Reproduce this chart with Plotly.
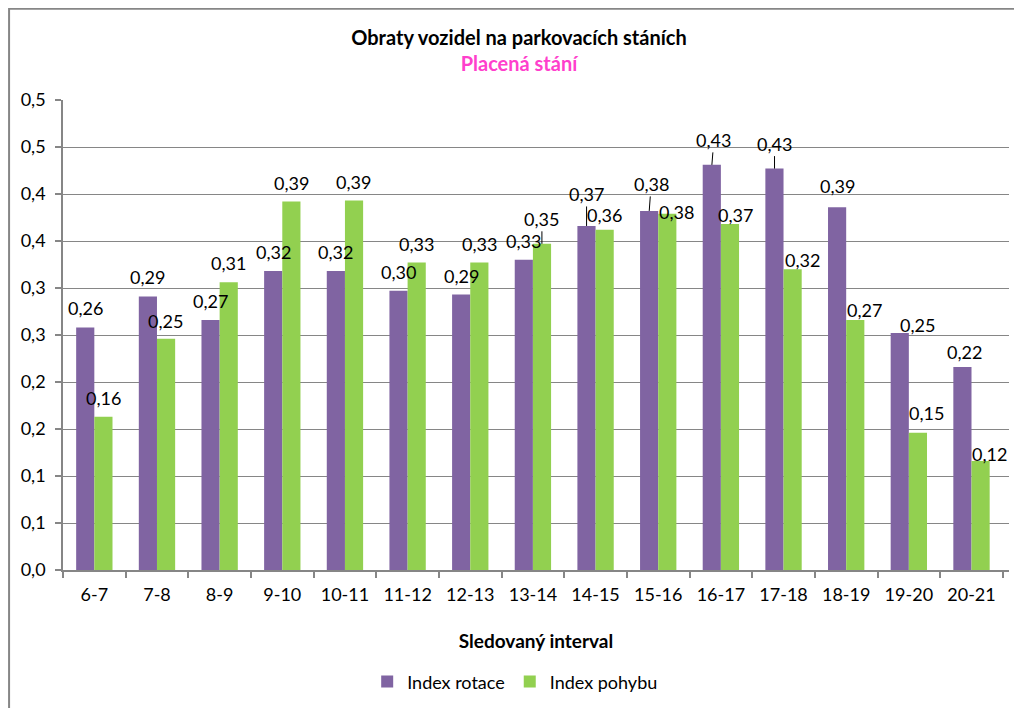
import plotly.graph_objects as go

# Sledované intervaly
intervaly = ['6-7', '7-8', '8-9', '9-10', '10-11', '11-12', '12-13', '13-14',
             '14-15', '15-16', '16-17', '17-18', '18-19', '19-20', '20-21']

# Index rotace (fialová)
index_rotace = [0.258, 0.291, 0.266, 0.318, 0.318, 0.297, 0.293, 0.330,
                0.366, 0.382, 0.431, 0.427, 0.386, 0.252, 0.216]

# Index pohybu (zelená)
index_pohybu = [0.163, 0.246, 0.306, 0.392, 0.393, 0.327, 0.327, 0.347,
                0.362, 0.379, 0.368, 0.320, 0.266, 0.146, 0.116]

# popisky osy y (jako v Excelu: krok 0,05, jedno desetinné místo)
y_hodnoty = [0, 0.05, 0.1, 0.15, 0.2, 0.25, 0.3, 0.35, 0.4, 0.45, 0.5]
y_popisky = ['0,0', '0,1', '0,1', '0,2', '0,2', '0,3', '0,3', '0,4', '0,4', '0,5', '0,5']

FIALOVA = '#8064A2'
ZELENA = '#92D050'
SEDA = '#868686'
FONT = 'Lato'
VEL = 18


def cz(v):
    return f'{v:.2f}'.replace('.', ',')


fig = go.Figure()
fig.add_trace(go.Bar(x=intervaly, y=index_rotace, name='Index rotace',
                     marker=dict(color=FIALOVA, line=dict(width=0))))
fig.add_trace(go.Bar(x=intervaly, y=index_pohybu, name='Index pohybu',
                     marker=dict(color=ZELENA, line=dict(width=0))))

# posuny popisků (ručně přesunuté v Excelu) - (dx, dy) v px, případně s čárou
posun_rotace = {5: (0, 19), 12: (0, 21), 13: (18, 8), 14: (2, 15)}
cary_rotace = {8: (0, -32), 9: (2, -27), 10: (2, -25), 11: (0, -25)}
posun_pohybu = {1: (0, 18), 8: (0, 15), 9: (9, 2), 10: (6, 9), 11: (10, 9),
                12: (9, 10), 13: (9, 20), 14: (9, 7)}
cary_pohybu = {7: (0, -25)}

anot = []
for hodnoty, xs, posun, cary in [
        (index_rotace, -9, posun_rotace, cary_rotace),
        (index_pohybu, 9, posun_pohybu, cary_pohybu)]:
    for i, (kat, v) in enumerate(zip(intervaly, hodnoty)):
        if i in cary:
            ax, ay = cary[i]
            anot.append(dict(x=kat, y=v, xshift=xs, text=cz(v), showarrow=True,
                             arrowhead=0, arrowwidth=1, arrowcolor='black',
                             ax=ax, ay=ay, standoff=0, startstandoff=0,
                             font=dict(size=VEL, color='black', family=FONT)))
        else:
            dx, dy = posun.get(i, (0, 19))
            anot.append(dict(x=kat, y=v, xshift=xs + dx, yshift=dy, text=cz(v),
                             showarrow=False, xanchor='center', yanchor='middle',
                             font=dict(size=VEL, color='black', family=FONT)))

# stránka má okraj 8 px, proto jsou okraje grafu o 8 px menší
fig.update_layout(
    width=1022, height=708,
    margin=dict(l=55, r=21, t=92, b=146),
    paper_bgcolor='white', plot_bgcolor='white',
    font=dict(family=FONT, size=VEL, color='black'),
    title=dict(text='<b>Obraty vozidel na parkovacích stáních</b><br>'
                    '<b><span style="color:#FF3FCC">Placená stání</span></b>',
               x=0.5, xanchor='center', y=0.948, yanchor='middle',
               font=dict(size=20, family=FONT, color='black')),
    barmode='group', bargap=0.42, bargroupgap=0,
    showlegend=True,
    legend=dict(orientation='h', x=0.478, xanchor='center', y=-0.238, yanchor='middle',
                font=dict(size=VEL, family=FONT), traceorder='normal'),
    annotations=anot,
    # rámeček kolem celého grafu
    shapes=[dict(type='rect', xref='paper', yref='paper', x0=-0.057, x1=1.05,
                 y0=-0.4, y1=1.194, line=dict(color=SEDA, width=2), layer='below')],
)

fig.update_xaxes(type='category', showline=True, linecolor=SEDA, linewidth=1.5,
                 ticks='outside', tickson='boundaries', ticklen=6, tickcolor=SEDA,
                 tickwidth=1.5, tickfont=dict(size=VEL, family=FONT),
                 ticklabelstandoff=8,
                 title=dict(text='<b>Sledovaný interval</b>', standoff=30,
                            font=dict(size=19, family=FONT)),
                 showgrid=False)
fig.update_yaxes(range=[0, 0.5], tickvals=y_hodnoty, ticktext=y_popisky,
                 showline=True, linecolor=SEDA, linewidth=1.5,
                 ticks='outside', ticklen=6, tickcolor=SEDA, tickwidth=1.5,
                 ticklabelstandoff=6,
                 showgrid=True, gridcolor=SEDA, gridwidth=1.3,
                 tickfont=dict(size=VEL, family=FONT), zeroline=False)

fig.write_html('out.html')
